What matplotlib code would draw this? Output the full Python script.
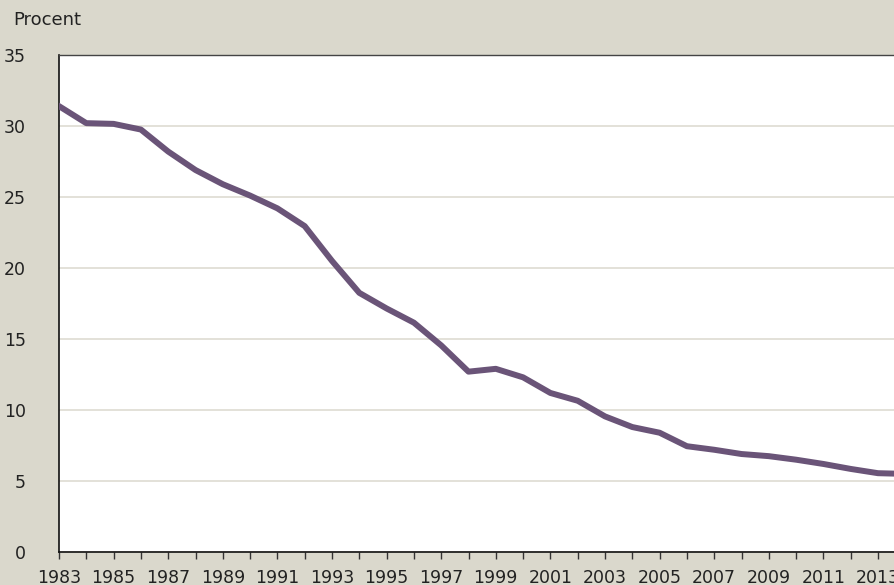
import matplotlib
matplotlib.use("Agg")
import matplotlib.pyplot as plt

matplotlib.rcParams.update({
    "font.family": ["DejaVu Sans"],
    "font.size": 12,
})

years = list(range(1983, 2015))
procent = [31.4, 30.2, 30.15, 29.75, 28.2, 26.9, 25.9, 25.1, 24.2, 22.95,
           20.5, 18.25, 17.15, 16.15, 14.55, 12.7, 12.9, 12.3, 11.2, 10.65,
           9.55, 8.8, 8.4, 7.45, 7.2, 6.9, 6.75, 6.5, 6.2, 5.85,
           5.55, 5.5]
xticks = list(range(1983, 2015, 2))
yticks = [0, 5, 10, 15, 20, 25, 30, 35]

BG = "#DAD8CC"
LINE = "#6A5478"
GRID = "#DEDCD2"

fig = plt.figure(figsize=(8.94, 5.85), dpi=100)
fig.patch.set_facecolor(BG)
ax = fig.add_axes([59 / 894, 33 / 585, 1 - 59 / 894, 497 / 585])
ax.set_facecolor("white")

ax.plot(years, procent, color=LINE, lw=4.3, solid_joinstyle="round", zorder=3)

ax.set_xticks(xticks)
ax.set_xticks(years, minor=True)
ax.set_yticks(yticks)
# set limits after ticks (set_ticks can widen the view); chart is cropped at right
ax.set_xlim(1983, 1983 + 835 / 27.3)
ax.set_ylim(0, 35)
ax.yaxis.grid(True, color=GRID, lw=1.2)
ax.set_axisbelow(True)

ax.tick_params(axis="y", length=0, pad=24, labelsize=12.5, labelcolor="#222222")
ax.tick_params(axis="x", which="both", direction="out", length=5, width=1,
               color="#333333", labelsize=12.5, labelcolor="#222222", pad=7)

for s in ["left", "bottom"]:
    ax.spines[s].set_color("#111111")
    ax.spines[s].set_linewidth(1.2)
ax.spines["top"].set_color("#444444")
ax.spines["top"].set_linewidth(1)
ax.spines["right"].set_visible(False)

fig.text(13 / 894, 1 - 20 / 585, "Procent", ha="left", va="center",
         fontsize=13, color="#222222")

fig.savefig("out.png", dpi=100, facecolor=BG)
